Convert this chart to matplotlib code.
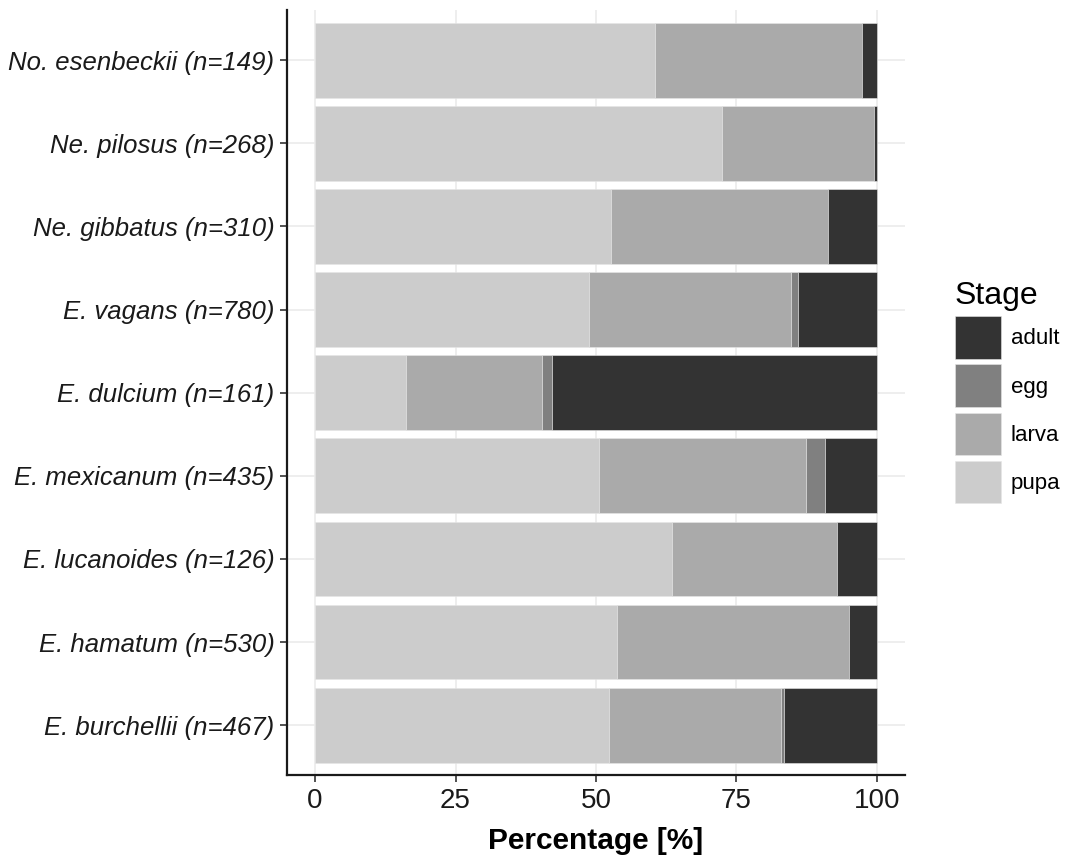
import matplotlib
matplotlib.use("Agg")
import matplotlib.pyplot as plt
from matplotlib.patches import Patch
import numpy as np

plt.rcParams["font.family"] = ["Liberation Sans", "DejaVu Sans"]

species = [
    "No. esenbeckii (n=149)",
    "Ne. pilosus (n=268)",
    "Ne. gibbatus (n=310)",
    "E. vagans (n=780)",
    "E. dulcium (n=161)",
    "E. mexicanum (n=435)",
    "E. lucanoides (n=126)",
    "E. hamatum (n=530)",
    "E. burchellii (n=467)",
]
# percentages per stage, same order as species
pupa = [60.5, 72.5, 52.6, 48.8, 16.1, 50.5, 63.5, 53.8, 52.3]
larva = [36.9, 27.1, 38.8, 36.0, 24.3, 36.9, 29.4, 41.3, 30.7]
egg = [0.0, 0.0, 0.0, 1.2, 1.8, 3.3, 0.0, 0.0, 0.5]
adult = [2.6, 0.4, 8.6, 14.0, 57.8, 9.3, 7.1, 4.9, 16.5]

stages = ["pupa", "larva", "egg", "adult"]
colors = {"adult": "#333333", "egg": "#808080", "larva": "#aaaaaa", "pupa": "#cccccc"}
values = {"pupa": pupa, "larva": larva, "egg": egg, "adult": adult}

fig = plt.figure(figsize=(10.67, 8.64), dpi=100)
ax = fig.add_axes([0.269, 0.103, 0.579, 0.885])

y = np.arange(len(species))[::-1]
left = np.zeros(len(species))
for st in stages:
    v = np.array(values[st])
    ax.barh(y, v, left=left, height=0.9, color=colors[st], edgecolor="#e6e6e6",
            linewidth=0.4, zorder=2)
    left += v

ax.set_xlim(-5, 105)
ax.set_ylim(-0.6, len(species) - 0.4)
ax.set_yticks(y)
ax.set_yticklabels(species, fontsize=18.5, style="italic", color="#1a1a1a")
ax.set_xticks([0, 25, 50, 75, 100])
ax.set_xticklabels(["0", "25", "50", "75", "100"], fontsize=20, color="#1a1a1a")
ax.set_xlabel("Percentage [%]", fontsize=21.5, fontweight="bold", labelpad=10)

ax.grid(True, color="#ebebeb", linewidth=1.2, zorder=0)
ax.set_axisbelow(True)
for s in ["top", "right"]:
    ax.spines[s].set_visible(False)
for s in ["left", "bottom"]:
    ax.spines[s].set_linewidth(1.6)
    ax.spines[s].set_color("#1a1a1a")
ax.tick_params(axis="both", length=5, width=1.2, color="#333333", pad=4)

handles = [Patch(facecolor=colors[s], edgecolor="#e6e6e6", linewidth=0.4, label=s)
           for s in ["adult", "egg", "larva", "pupa"]]
leg = fig.legend(handles=handles, title="Stage", loc="upper left",
                 bbox_to_anchor=(0.880, 0.693), frameon=False, fontsize=16,
                 title_fontsize=23, handlelength=2.07, handleheight=2.57,
                 labelspacing=0.25, handletextpad=0.45, borderpad=0.2)
leg._legend_box.align = "left"

fig.savefig("out.png", dpi=100, facecolor="white")
